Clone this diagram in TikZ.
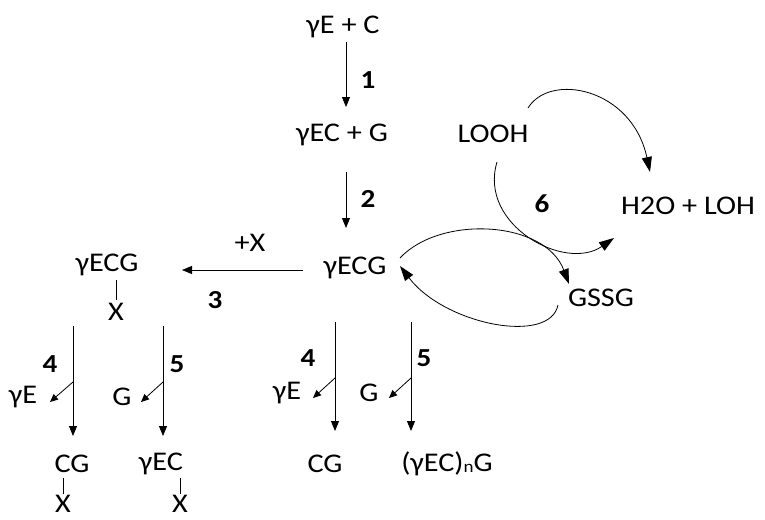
\documentclass[tikz,border=0pt]{standalone}
\usepackage{fontspec}
\setmainfont{Carlito}[FakeStretch=1.12]
\usetikzlibrary{arrows.meta}
\begin{document}
\begin{tikzpicture}[x=1pt,y=-1pt,
  lbl/.style={inner sep=0pt,font=\fontsize{27}{30}\selectfont},
  num/.style={inner sep=0pt,font=\fontsize{26}{29}\selectfont\bfseries},
  arr/.style={line width=0.8pt,-{Triangle[length=10pt,width=8pt]}},
  sarr/.style={line width=0.8pt,-{Triangle[length=8pt,width=7pt]}},
  carr/.style={line width=0.8pt,-{Triangle[length=15pt,width=10pt]}},
  bond/.style={line width=0.8pt}]
\useasboundingbox (0,0) rectangle (765,519);
% main chain
\node[lbl] (ec) at (343,27) {γE + C};
\node[lbl] (ecg1) at (342,135) {γEC + G};
\node[lbl] (gecg) at (355,268) {γECG};
\node[lbl] (looh) at (493,134) {LOOH};
\node[lbl] (h2o) at (688,206) {H2O + LOH};
\node[lbl] (gssg) at (601,298) {GSSG};
\node[lbl] (px) at (250,243) {+X};
\node[lbl] (lgecg) at (107,265) {γECG};
\node[lbl] (lx) at (116,312) {X};
% numbers
\node[num] (n1) at (368,80) {1};
\node[num] (n2) at (368,199) {2};
\node[num] (n3) at (215,300) {3};
\node[num] (n4a) at (50,364) {4};
\node[num] (n5a) at (177,364) {5};
\node[num] (n4b) at (308,358) {4};
\node[num] (n5b) at (424,358) {5};
\node[num] (n6) at (542,204) {6};
% lower left
\node[lbl] (ge1) at (23,397) {γE};
\node[lbl] (g1) at (122,397) {G};
\node[lbl] (cg1) at (72,464) {CG};
\node[lbl] (gec1) at (161,464) {γEC};
\node[lbl] (x1) at (63,504) {X};
\node[lbl] (x2) at (180,504) {X};
% lower middle
\node[lbl] (ge2) at (287,393) {γE};
\node[lbl] (g2) at (369,393) {G};
\node[lbl] (cg2) at (325,464) {CG};
\node[lbl] (gecn) at (447,464) {(γEC)\raisebox{-1pt}{\fontsize{17}{17}\selectfont n}G};
% coordinates
\coordinate (a1s) at (346,42);  \coordinate (a1e) at (346,107);
\coordinate (a2s) at (346,172); \coordinate (a2e) at (346,228);
\coordinate (a3s) at (303,270); \coordinate (a3e) at (182,270);
\coordinate (l4s) at (73,326);  \coordinate (l4e) at (73,436); \coordinate (l4b) at (73,382);
\coordinate (l5s) at (163,326); \coordinate (l5e) at (163,436); \coordinate (l5b) at (163,382);
\coordinate (m4s) at (335,322); \coordinate (m4e) at (335,431); \coordinate (m4b) at (335,378);
\coordinate (m5s) at (411,322); \coordinate (m5e) at (411,431); \coordinate (m5b) at (411,378);
\coordinate (l4t) at (50,402); \coordinate (l5t) at (141,402);
\coordinate (m4t) at (313,398); \coordinate (m5t) at (389,398);
% arrows
\draw[arr] (a1s) -- (a1e);
\draw[arr] (a2s) -- (a2e);
\draw[arr] (a3s) -- (a3e);
\draw[arr] (l4s) -- (l4e);
\draw[arr] (l5s) -- (l5e);
\draw[arr] (m4s) -- (m4e);
\draw[arr] (m5s) -- (m5e);
\draw[sarr] (l4b) -- (l4t);
\draw[sarr] (l5b) -- (l5t);
\draw[sarr] (m4b) -- (m4t);
\draw[sarr] (m5b) -- (m5t);
% bonds
\draw[bond] (116,280) -- (116,300);
\draw[bond] (63,478) -- (63,494);
\draw[bond] (180,478) -- (180,494);
% curves
\draw[carr] (528,108) .. controls (550,72) and (632,88) .. (650,172);
\draw[carr] (497,162) .. controls (478,225) and (565,272) .. (614,238);
\draw[carr] (400,258) .. controls (440,215) and (545,220) .. (569,284);
\draw[carr] (558,305) .. controls (550,345) and (445,325) .. (400,266);
\end{tikzpicture}
\end{document}
